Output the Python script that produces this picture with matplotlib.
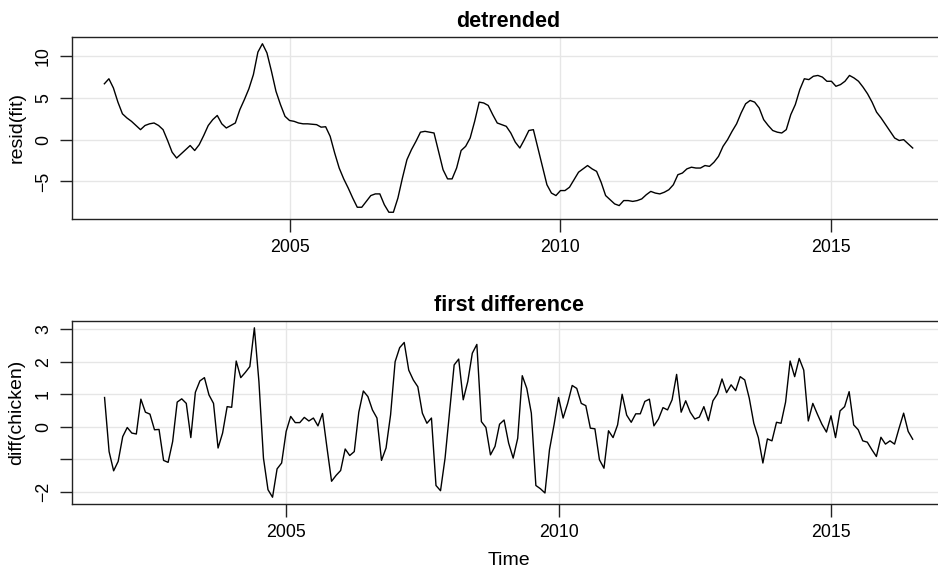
import numpy as np
import matplotlib
matplotlib.use("Agg")
import matplotlib.pyplot as plt

plt.rcParams["font.family"] = ["Liberation Sans", "DejaVu Sans"]

# monthly series, Aug 2001 - Jul 2016
start_year = 2001 + 7 / 12

resid_fit = [
    6.7, 7.3, 6.2, 4.5, 3.1, 2.6, 2.2, 1.7, 1.2, 1.7,
    1.9, 2.0, 1.7, 1.2, -0.1, -1.5, -2.2, -1.7, -1.2, -0.7,
    -1.3, -0.6, 0.5, 1.7, 2.4, 2.9, 1.9, 1.4, 1.7, 2.0,
    3.6, 4.8, 6.1, 7.8, 10.5, 11.5, 10.4, 8.2, 5.8, 4.2,
    2.8, 2.3, 2.2, 2.0, 1.9, 1.9, 1.85, 1.8, 1.5, 1.55,
    0.4, -1.6, -3.4, -4.7, -5.8, -7.0, -8.1, -8.1, -7.4, -6.7,
    -6.5, -6.5, -7.8, -8.7, -8.7, -7.0, -4.6, -2.4, -1.2, -0.2,
    0.9, 1.0, 0.9, 0.8, -1.4, -3.6, -4.7, -4.7, -3.4, -1.3,
    -0.8, 0.2, 2.2, 4.5, 4.4, 4.1, 3.0, 2.0, 1.8, 1.6,
    0.8, -0.3, -1.0, 0.0, 1.1, 1.2, -1.0, -3.2, -5.4, -6.4,
    -6.7, -6.1, -6.1, -5.7, -4.8, -3.9, -3.5, -3.1, -3.5, -3.8,
    -5.1, -6.7, -7.2, -7.7, -7.9, -7.3, -7.3, -7.4, -7.3, -7.1,
    -6.6, -6.2, -6.4, -6.5, -6.3, -6.0, -5.4, -4.2, -4.0, -3.5,
    -3.3, -3.4, -3.4, -3.1, -3.2, -2.7, -2.0, -0.8, 0.0, 1.0,
    1.9, 3.2, 4.3, 4.7, 4.5, 3.8, 2.4, 1.7, 1.1, 0.9,
    0.8, 1.2, 3.0, 4.2, 6.0, 7.3, 7.2, 7.6, 7.7, 7.5,
    7.0, 7.0, 6.4, 6.6, 7.0, 7.7, 7.4, 7.0, 6.3, 5.5,
    4.5, 3.3, 2.6, 1.8, 1.0, 0.2, -0.1, 0.0, -0.5, -1.0,
]

diff_chicken = [
    0.90, -0.76, -1.35, -1.06, -0.30, -0.02, -0.19, -0.22, 0.85, 0.45,
    0.39, -0.09, -0.08, -1.03, -1.09, -0.45, 0.76, 0.86, 0.72, -0.33,
    1.06, 1.41, 1.51, 0.98, 0.72, -0.65, -0.19, 0.62, 0.60, 2.02,
    1.51, 1.67, 1.85, 3.04, 1.39, -0.96, -1.93, -2.16, -1.29, -1.11,
    -0.14, 0.32, 0.13, 0.13, 0.29, 0.18, 0.27, 0.03, 0.41, -0.65,
    -1.67, -1.49, -1.34, -0.68, -0.88, -0.76, 0.45, 1.10, 0.93, 0.52,
    0.27, -1.03, -0.65, 0.37, 2.00, 2.43, 2.59, 1.74, 1.44, 1.23,
    0.42, 0.11, 0.27, -1.80, -1.96, -0.96, 0.47, 1.90, 2.08, 0.83,
    1.39, 2.26, 2.53, 0.16, -0.02, -0.86, -0.60, 0.08, 0.21, -0.50,
    -0.96, -0.35, 1.57, 1.18, 0.42, -1.80, -1.90, -2.03, -0.70, 0.06,
    0.90, 0.27, 0.72, 1.27, 1.18, 0.72, 0.65, -0.04, -0.06, -1.01,
    -1.27, -0.12, -0.33, 0.06, 1.00, 0.36, 0.14, 0.40, 0.40, 0.78,
    0.85, 0.03, 0.24, 0.59, 0.52, 0.83, 1.61, 0.45, 0.80, 0.45,
    0.24, 0.30, 0.62, 0.19, 0.80, 1.01, 1.47, 1.05, 1.29, 1.11,
    1.54, 1.44, 0.88, 0.11, -0.33, -1.11, -0.37, -0.43, 0.14, 0.11,
    0.76, 2.02, 1.54, 2.10, 1.74, 0.18, 0.72, 0.39, 0.08, -0.16,
    0.34, -0.33, 0.49, 0.62, 1.08, 0.06, -0.09, -0.43, -0.47, -0.70,
    -0.91, -0.32, -0.53, -0.43, -0.53, -0.04, 0.42, -0.14, -0.38,
]

x_ticks = [2005, 2010, 2015]
x_tick_labels = ["2005", "2010", "2015"]
top_yticks = [-5, 0, 5, 10]
top_ytick_labels = ["\u22125", "0", "5", "10"]
bot_yticks = [-2, -1, 0, 1, 2, 3]
bot_ytick_labels = ["\u22122", "", "0", "1", "2", "3"]

t_resid = start_year + np.arange(len(resid_fit)) / 12
t_diff = start_year + (np.arange(len(diff_chicken)) + 1) / 12

fig = plt.figure(figsize=(9.38, 5.70), dpi=100)
ax1 = fig.add_axes([0.0768, 0.6158, 0.9307, 0.3193])
ax2 = fig.add_axes([0.0770, 0.1158, 0.9305, 0.3210])


def style(ax, yticks, ylabels, ylabel, title):
    ax.margins(x=0.04, y=0.04)
    ax.set_xticks(x_ticks)
    ax.set_xticklabels(x_tick_labels)
    ax.set_yticks(yticks)
    ax.set_yticklabels(ylabels, rotation=90, va="center")
    ax.grid(True, color="#e6e6e6", lw=1.0)
    ax.set_axisbelow(True)
    ax.tick_params(axis="both", direction="out", length=9, width=1.0,
                   labelsize=12.8, pad=5.5, color="#222222")
    for sp in ax.spines.values():
        sp.set_color("#222222")
        sp.set_linewidth(1.0)
    ax.set_ylabel(ylabel, fontsize=14, labelpad=7)
    ax.set_title(title, fontsize=15.5, fontweight="bold", pad=7)


ax1.plot(t_resid, resid_fit, color="black", lw=1.0)
style(ax1, top_yticks, top_ytick_labels, "resid(fit)", "detrended")

ax2.plot(t_diff, diff_chicken, color="black", lw=1.0)
style(ax2, bot_yticks, bot_ytick_labels, "diff(chicken)", "first difference")
ax2.set_xlabel("Time", fontsize=14, labelpad=8)

fig.savefig("out.png", dpi=100)
